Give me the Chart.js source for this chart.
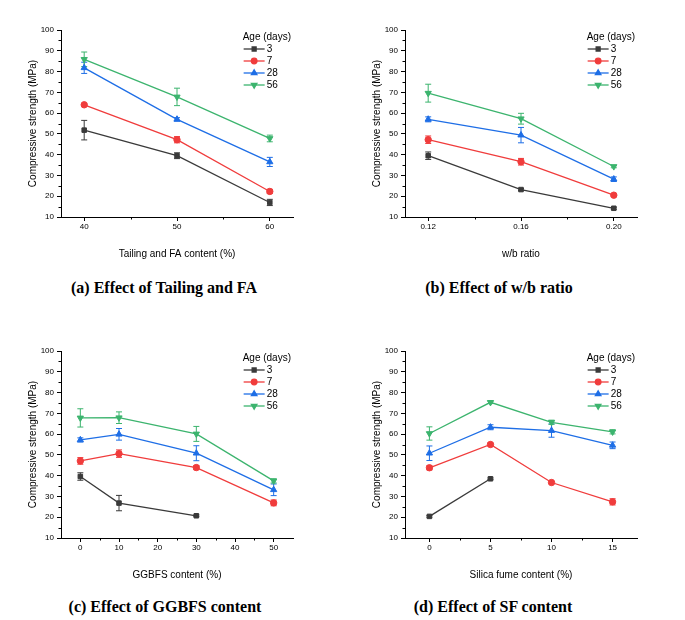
<!DOCTYPE html>
<html>
<head>
<meta charset="utf-8">
<script src="https://cdn.jsdelivr.net/npm/chart.js@4.4.1/dist/chart.umd.min.js"></script>
<style>
  body { margin: 0; background: #fff; width: 685px; height: 620px; position: relative; overflow: hidden; }
  .panel { position: absolute; width: 340px; height: 260px; }
  .cap { position: absolute; transform: translate(-50%, -50%); white-space: nowrap;
         font: bold 16px "Liberation Serif", "Times New Roman", serif; color: #000; }
</style>
</head>
<body>
<div class="panel" style="left:0;top:0"><canvas id="chartA" width="340" height="260"></canvas></div>
<div class="panel" style="left:344px;top:0"><canvas id="chartB" width="340" height="260"></canvas></div>
<div class="panel" style="left:0;top:321px"><canvas id="chartC" width="340" height="260"></canvas></div>
<div class="panel" style="left:344px;top:321px"><canvas id="chartD" width="340" height="260"></canvas></div>
<div class="cap" style="left:164px;top:288px">(a) Effect of Tailing and FA</div>
<div class="cap" style="left:499px;top:288px">(b) Effect of w/b ratio</div>
<div class="cap" style="left:165px;top:607px">(c) Effect of GGBFS content</div>
<div class="cap" style="left:493px;top:607px">(d) Effect of SF content</div>
<script>
// ---- data ----
const ages = ['3', '7', '28', '56'];
const yTicks = [10, 20, 30, 40, 50, 60, 70, 80, 90, 100];
const yMinor = [15, 25, 35, 45, 55, 65, 75, 85, 95];

// (a) tailing + FA content
const tailingX = [40, 50, 60];
const tailingTicks = [40, 50, 60];
const tailingLabels = ['40', '50', '60'];
const tailingMinor = [45, 55];
const tailing3 = [51.8, 39.5, 17.0];
const tailing7 = [64.0, 47.2, 22.3];
const tailing28 = [81.8, 57.0, 36.5];
const tailing56 = [85.9, 67.8, 47.8];
const tailing3Err = [4.7, 1.4, 1.5];
const tailing7Err = [0.5, 1.5, 1.0];
const tailing28Err = [2.7, 0.8, 2.2];
const tailing56Err = [3.5, 4.2, 1.6];

// (b) w/b ratio
const wbX = [0.12, 0.16, 0.20];
const wbTicks = [0.12, 0.16, 0.20];
const wbLabels = ['0.12', '0.16', '0.20'];
const wbMinor = [0.14, 0.18];
const wb3 = [39.5, 23.2, 14.2];
const wb7 = [47.2, 36.6, 20.5];
const wb28 = [57.0, 49.4, 28.2];
const wb56 = [69.6, 57.3, 34.3];
const wb3Err = [1.8, 0.5, 0.5];
const wb7Err = [1.8, 1.6, 0.6];
const wb28Err = [1.2, 3.7, 1.1];
const wb56Err = [4.3, 2.6, 0.6];

// (c) GGBFS content
const ggbfsX = [0, 10, 30, 50];
const ggbfsTicks = [0, 10, 20, 30, 40, 50];
const ggbfsLabels = ['0', '10', '20', '30', '40', '50'];
const ggbfsMinor = [5, 15, 25, 35, 45];
const ggbfs3 = [39.6, 26.8, 20.7, null];
const ggbfs7 = [47.1, 50.6, 43.9, 26.9];
const ggbfs28 = [57.2, 59.9, 50.8, 33.2];
const ggbfs56 = [67.8, 67.9, 60.1, 37.5];
const ggbfs3Err = [1.8, 3.7, 0.4, null];
const ggbfs7Err = [1.6, 1.8, 1.0, 1.4];
const ggbfs28Err = [1.0, 2.8, 3.6, 2.8];
const ggbfs56Err = [4.4, 2.8, 3.6, 1.0];

// (d) silica fume content
const sfX = [0, 5, 10, 15];
const sfTicks = [0, 5, 10, 15];
const sfLabels = ['0', '5', '10', '15'];
const sfMinor = [2.5, 7.5, 12.5];
const sf3 = [20.4, 38.5, null, null];
const sf7 = [43.8, 55.0, 36.7, 27.4];
const sf28 = [50.8, 63.3, 61.7, 54.6];
const sf56 = [60.3, 75.3, 65.7, 61.1];
const sf3Err = [0.4, 0.4, null, null];
const sf7Err = [1.0, 0.7, 0.4, 1.5];
const sf28Err = [3.5, 1.2, 3.2, 1.6];
const sf56Err = [3.2, 0.6, 1.0, 1.0];

// ---- styles ----
const seriesColors = ['#3a3a3a', '#f03c3c', '#1e6ee6', '#3cb46e'];
const seriesMarkers = [
  { style: 'rect', rotation: 0, radius: 3.2 },
  { style: 'circle', rotation: 0, radius: 3.2 },
  { style: 'triangle', rotation: 0, radius: 3.6 },
  { style: 'triangle', rotation: 180, radius: 3.6 }
];
const FONT = '"Liberation Sans", Arial, sans-serif';

// vertical error bars drawn through the chart's own scales
const errorBars = {
  id: 'errorBars',
  beforeDatasetsDraw(chart) {
    const { ctx, scales: { x, y } } = chart;
    ctx.save();
    chart.data.datasets.forEach(ds => {
      ds.data.forEach((p, i) => {
        const e = ds.errors[i];
        if (p.y == null || !e) return;
        const px = x.getPixelForValue(p.x);
        const top = y.getPixelForValue(p.y + e);
        const bot = y.getPixelForValue(p.y - e);
        ctx.strokeStyle = ds.borderColor;
        ctx.lineWidth = 1;
        ctx.beginPath();
        ctx.moveTo(px, top); ctx.lineTo(px, bot);
        ctx.moveTo(px - 3, top); ctx.lineTo(px + 3, top);
        ctx.moveTo(px - 3, bot); ctx.lineTo(px + 3, bot);
        ctx.stroke();
      });
    });
    ctx.restore();
  }
};

// short minor ticks on both axes
const minorTicks = {
  id: 'minorTicks',
  afterDraw(chart, args, opts) {
    const { ctx, chartArea: a, scales: { x, y } } = chart;
    ctx.save();
    ctx.strokeStyle = '#000';
    ctx.lineWidth = 1;
    ctx.beginPath();
    opts.x.forEach(v => {
      const px = Math.round(x.getPixelForValue(v)) + 0.5;
      ctx.moveTo(px, a.bottom); ctx.lineTo(px, a.bottom + 2.5);
    });
    opts.y.forEach(v => {
      const py = Math.round(y.getPixelForValue(v)) + 0.5;
      ctx.moveTo(a.left, py); ctx.lineTo(a.left - 2.5, py);
    });
    ctx.stroke();
    ctx.restore();
  }
};

// legend inside the plot, top right, with line + marker samples
const insideLegend = {
  id: 'insideLegend',
  afterDraw(chart) {
    const { ctx, chartArea: a } = chart;
    ctx.save();
    ctx.font = '10px ' + FONT;
    ctx.fillStyle = '#000';
    ctx.textBaseline = 'middle';
    const title = 'Age (days)';
    const tw = ctx.measureText(title).width;
    const left = a.right - 2 - tw;
    ctx.fillText(title, left, a.top + 7);
    chart.data.datasets.forEach((ds, i) => {
      const cy = a.top + 19 + 12 * i;
      ctx.strokeStyle = ds.borderColor;
      ctx.lineWidth = 1.3;
      ctx.beginPath();
      ctx.moveTo(left + 1, cy); ctx.lineTo(left + 22, cy);
      ctx.stroke();
      ctx.fillStyle = ds.borderColor;
      Chart.helpers.drawPoint(ctx, {
        pointStyle: ds.pointStyle, rotation: ds.pointRotation,
        radius: ds.pointRadius - 0.4, borderWidth: 1
      }, left + 11.5, cy);
      ctx.fillStyle = '#000';
      ctx.fillText(ds.label, left + 24, cy);
    });
    ctx.restore();
  }
};

function buildChart(id, xTitle, xs, series, errs, xMin, xMax, xTicks, xLabels, xMinor, yAxisWidth) {
  const datasets = series.map((vals, i) => ({
    label: ages[i],
    data: xs.map((x, j) => ({ x: x, y: vals[j] })),
    errors: errs[i],
    borderColor: seriesColors[i],
    backgroundColor: seriesColors[i],
    borderWidth: 1.3,
    pointStyle: seriesMarkers[i].style,
    pointRotation: seriesMarkers[i].rotation,
    pointRadius: seriesMarkers[i].radius,
    pointHoverRadius: seriesMarkers[i].radius,
    pointBorderWidth: 1,
    tension: 0,
    spanGaps: false
  }));

  new Chart(document.getElementById(id), {
    type: 'line',
    data: { datasets },
    options: {
      responsive: false,
      animation: false,
      events: [],
      layout: { padding: { left: 0, right: 47, top: 30, bottom: 0 } },
      plugins: {
        legend: { display: false },
        tooltip: { enabled: false },
        minorTicks: { x: xMinor, y: yMinor }
      },
      scales: {
        x: {
          type: 'linear',
          min: xMin,
          max: xMax,
          afterBuildTicks: s => { s.ticks = xTicks.map(v => ({ value: v })); },
          afterFit: s => { s.height = 43; },
          grid: { drawOnChartArea: false, drawTicks: true, tickLength: 4, color: '#000' },
          border: { display: true, color: '#000', width: 1 },
          ticks: {
            padding: 1,
            color: '#000',
            font: { family: FONT, size: 8 },
            maxRotation: 0,
            callback: v => { const k = xTicks.indexOf(v); return k >= 0 ? xLabels[k] : ''; }
          },
          title: {
            display: true, text: xTitle, color: '#000',
            font: { family: FONT, size: 10 },
            padding: { top: 13, bottom: 0 }
          }
        },
        y: {
          type: 'linear',
          min: 10,
          max: 100,
          afterBuildTicks: s => { s.ticks = yTicks.map(v => ({ value: v })); },
          afterFit: s => { s.width = yAxisWidth; },
          grid: { drawOnChartArea: false, drawTicks: true, tickLength: 4, color: '#000' },
          border: { display: true, color: '#000', width: 1 },
          ticks: { padding: 3, color: '#000', font: { family: FONT, size: 8 } },
          title: {
            display: true, text: 'Compressive strength (MPa)', color: '#000',
            font: { family: FONT, size: 10 },
            padding: { top: 27, bottom: 0 }
          }
        }
      }
    },
    plugins: [errorBars, minorTicks, insideLegend]
  });
}

buildChart('chartA', 'Tailing and FA content (%)', tailingX,
  [tailing3, tailing7, tailing28, tailing56],
  [tailing3Err, tailing7Err, tailing28Err, tailing56Err],
  37.5, 62.5, tailingTicks, tailingLabels, tailingMinor, 61);

buildChart('chartB', 'w/b ratio', wbX,
  [wb3, wb7, wb28, wb56],
  [wb3Err, wb7Err, wb28Err, wb56Err],
  0.11, 0.21, wbTicks, wbLabels, wbMinor, 61);

buildChart('chartC', 'GGBFS content (%)', ggbfsX,
  [ggbfs3, ggbfs7, ggbfs28, ggbfs56],
  [ggbfs3Err, ggbfs7Err, ggbfs28Err, ggbfs56Err],
  -5, 55, ggbfsTicks, ggbfsLabels, ggbfsMinor, 61);

buildChart('chartD', 'Silica fume content (%)', sfX,
  [sf3, sf7, sf28, sf56],
  [sf3Err, sf7Err, sf28Err, sf56Err],
  -2, 17, sfTicks, sfLabels, sfMinor, 61);
</script>
</body>
</html>
